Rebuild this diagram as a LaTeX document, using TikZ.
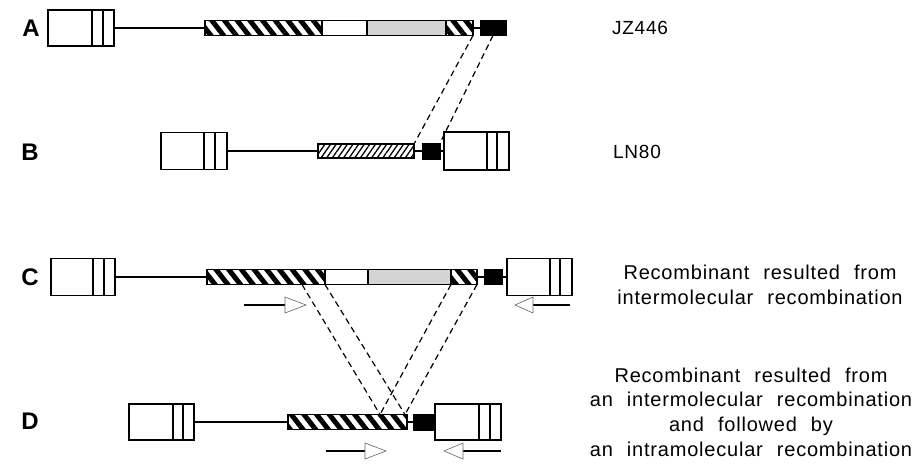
\documentclass[tikz,border=0pt]{standalone}
\usepackage{fontspec}
\setmainfont{Liberation Sans}
\newfontfamily\spacedfont[LetterSpace=4]{Liberation Sans}
\usetikzlibrary{patterns.meta}
\newcommand\mywidesp{\spaceskip=14pt plus 2pt\relax}
\begin{document}
\begin{tikzpicture}[x=1pt,y=-1pt,
  vbox/.style={draw, line width=1.6pt, inner sep=0pt, outer sep=0pt, fill=white},
  segbox/.style={draw, line width=1.6pt, inner sep=0pt, outer sep=0pt},
  thickhatch/.style={segbox, pattern={Lines[angle=-52,distance=10pt,line width=5pt]}},
  finehatch/.style={segbox, pattern={Lines[angle=55,distance=4.6pt,line width=1.3pt]}},
  greyseg/.style={segbox, fill=black!17},
  whiteseg/.style={segbox, fill=white},
  blkbox/.style={draw, fill=black, line width=1pt, inner sep=0pt, outer sep=0pt},
  wire/.style={line width=2pt},
  innerln/.style={line width=1.3pt},
  dline/.style={line width=1.2pt, dash pattern=on 6pt off 4pt},
  shaftln/.style={line width=2.8pt},
  tiphead/.style={line width=0.6pt, draw=black!60, fill=white},
  lbltxt/.style={font=\bfseries\fontsize{24}{24}\selectfont},
  nametxt/.style={font=\spacedfont\fontsize{19}{19}\selectfont},
  desctxt/.style={font=\spacedfont\fontsize{20}{24.6}\selectfont\mywidesp, align=center}
]
\useasboundingbox (0,0) rectangle (918,464);

% ---------------- A ----------------
\node[vbox, minimum width=66pt, minimum height=36pt] (Abox) at (81,28) {};
\draw[innerln] (92,10) -- (92,46) (103,10) -- (103,46);
\node[thickhatch, minimum width=117pt, minimum height=15pt] (Ah1) at (263.5,28) {};
\node[whiteseg, minimum width=45pt, minimum height=15pt] (Aw) at (344.5,28) {};
\node[greyseg, minimum width=79pt, minimum height=15pt] (Ag) at (406.5,28) {};
\node[thickhatch, minimum width=27pt, minimum height=15pt] (Ah2) at (459.5,28) {};
\node[blkbox, minimum width=26pt, minimum height=15pt] (Ablk) at (493,28) {};
\draw[wire] (Abox.east) -- (Ah1.west);
\draw[wire] (Ah2.east) -- (Ablk.west);

% ---------------- B ----------------
\node[vbox, minimum width=66pt, minimum height=37pt] (Bbox) at (194,151) {};
\draw[innerln] (204,132.5) -- (204,169.5) (215,132.5) -- (215,169.5);
\node[finehatch, minimum width=96pt, minimum height=14pt] (Bh) at (366,151) {};
\node[blkbox, minimum width=18pt, minimum height=16pt] (Bblk) at (431,151) {};
\node[vbox, minimum width=65pt, minimum height=38pt] (Bbox2) at (476.5,151) {};
\draw[innerln] (487,132) -- (487,170) (497,132) -- (497,170);
\draw[wire] (Bbox.east) -- (Bh.west);
\draw[wire] (Bh.east) -- (Bblk.west);
\draw[wire] (Bblk.east) -- (Bbox2.west);

% A -> B dashed
\draw[dline] (Ah2.south east) -- (Bh.north east);
\draw[dline] (Ablk.south) -- (Bblk.north east);

% ---------------- C ----------------
\node[vbox, minimum width=64pt, minimum height=37pt] (Cbox) at (83,277) {};
\draw[innerln] (93,258.5) -- (93,295.5) (104,258.5) -- (104,295.5);
\node[thickhatch, minimum width=118pt, minimum height=15pt] (Ch1) at (266,277) {};
\node[whiteseg, minimum width=43pt, minimum height=15pt] (Cw) at (346.5,277) {};
\node[greyseg, minimum width=83pt, minimum height=15pt] (Cg) at (409.5,277) {};
\node[thickhatch, minimum width=26pt, minimum height=15pt] (Ch2) at (464,277) {};
\node[blkbox, minimum width=18pt, minimum height=15pt] (Cblk) at (493,277) {};
\node[vbox, minimum width=65pt, minimum height=37pt] (Cbox2) at (539.5,277) {};
\draw[innerln] (550,258.5) -- (550,295.5) (560,258.5) -- (560,295.5);
\draw[wire] (Cbox.east) -- (Ch1.west);
\draw[wire] (Ch2.east) -- (Cblk.west);
\draw[wire] (Cblk.east) -- (Cbox2.west);

% C arrows
\coordinate (ca1) at (244,305); \coordinate (ca2) at (285,305);
\draw[shaftln] (ca1) -- (ca2);
\draw[tiphead] (ca2) ++(0,-8) -- ++(21,8) -- ++(-21,8) -- cycle;
\coordinate (cb1) at (570,305); \coordinate (cb2) at (533,305);
\draw[shaftln] (cb1) -- (cb2);
\draw[tiphead] (cb2) ++(0,-8) -- ++(-18,8) -- ++(18,8) -- cycle;

% ---------------- D ----------------
\node[vbox, minimum width=65pt, minimum height=36pt] (Dbox) at (161.5,422) {};
\draw[innerln] (173,404) -- (173,440) (183,404) -- (183,440);
\node[thickhatch, minimum width=119pt, minimum height=15pt] (Dh) at (347.5,422) {};
\node[blkbox, minimum width=20pt, minimum height=16pt] (Dblk) at (423,422) {};
\node[vbox, minimum width=66pt, minimum height=36pt] (Dbox2) at (468,422) {};
\draw[innerln] (479,404) -- (479,440) (490,404) -- (490,440);
\draw[wire] (Dbox.east) -- (Dh.west);
\draw[wire] (Dh.east) -- (Dblk.west);
\draw[wire] (Dblk.east) -- (Dbox2.west);

% D arrows
\coordinate (da1) at (326,451); \coordinate (da2) at (365,451);
\draw[shaftln] (da1) -- (da2);
\draw[tiphead] (da2) ++(0,-8) -- ++(21,8) -- ++(-21,8) -- cycle;
\coordinate (db1) at (501,451); \coordinate (db2) at (463,451);
\draw[shaftln] (db1) -- (db2);
\draw[tiphead] (db2) ++(0,-8) -- ++(-19,8) -- ++(19,8) -- cycle;

% C -> D dashed
\coordinate (c1) at ([xshift=-23pt]Ch1.south east);
\coordinate (d1) at ([xshift=-27pt]Dh.north east);
\coordinate (d2) at ([xshift=-2pt]Dh.north east);
\draw[dline] (c1) -- (d1);
\draw[dline] (Ch1.south east) -- (d2);
\draw[dline] (Cg.south east) -- (d1);
\draw[dline] (Ch2.south east) -- (d2);

% ---------------- labels ----------------
\node[lbltxt] (LA) at (31,28) {A};
\node[lbltxt] (LB) at (30,152) {B};
\node[lbltxt] (LC) at (30,277) {C};
\node[lbltxt] (LD) at (30,421) {D};
\node[nametxt] (NA) at (640,28) {JZ446};
\node[nametxt] (NB) at (637,152) {LN80};
\node[desctxt] (TC) at (760,285) {Recombinant resulted from\\intermolecular recombination};
\node[desctxt] (TD) at (751,412) {Recombinant resulted from\\an intermolecular recombination\\and followed by\\an intramolecular recombination};
\end{tikzpicture}
\end{document}
